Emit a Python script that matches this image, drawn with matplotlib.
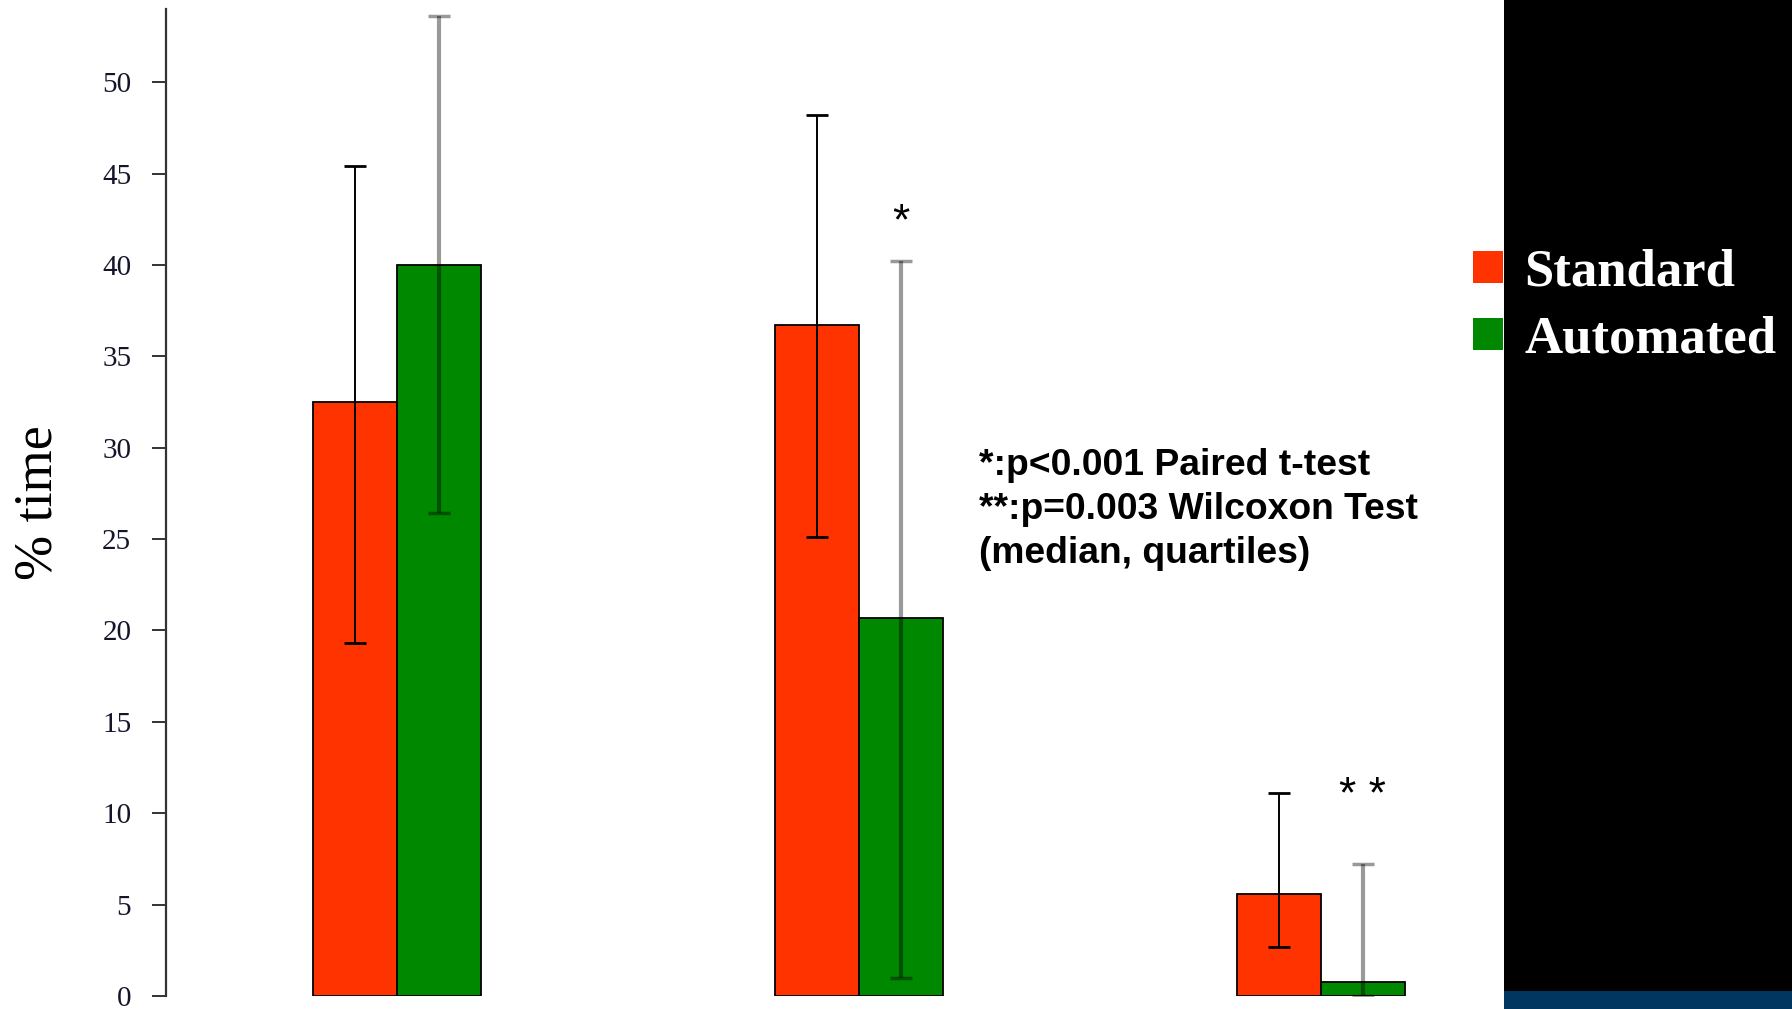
import matplotlib
matplotlib.use("Agg")
import matplotlib.pyplot as plt
from matplotlib.patches import Patch, Rectangle
import numpy as np

# Data
groups = [0, 1, 2]
series_names = ["Standard", "Automated"]
standard = [32.5, 36.7, 5.6]
standard_low = [19.3, 25.1, 2.7]
standard_high = [45.4, 48.2, 11.1]
automated = [40.0, 20.7, 0.75]
automated_low = [26.4, 1.0, 0.0]
automated_high = [53.6, 40.2, 7.2]
yticks = [0, 5, 10, 15, 20, 25, 30, 35, 40, 45, 50]

# significance marks (group index, text, y value)
star_groups = [1, 2]
star_labels = ["*", "* *"]
star_y = [42.3, 10.9]

note = "*:p<0.001 Paired t-test\n**:p=0.003 Wilcoxon Test\n(median, quartiles)"

red = "#FF3300"
green = "#008800"
width = 0.182

W, H = 1792, 1009
fig = plt.figure(figsize=(W / 100, H / 100), dpi=100)
fig.patch.set_facecolor("white")

# black side panel with the blue strip at the bottom
fig.patches.append(Rectangle((1504 / W, 18 / H), 1 - 1504 / W, 1 - 18 / H,
                             transform=fig.transFigure, facecolor="black", zorder=0))
fig.patches.append(Rectangle((1504 / W, 0), 1 - 1504 / W, 18 / H,
                             transform=fig.transFigure, facecolor="#003660", zorder=0))

ax = fig.add_axes([166 / W, 13 / H, (1504 - 166) / W, (996 - 9) / H])
ax.set_facecolor("none")

x = np.array(groups)
xs = x - width / 2
xa = x + width / 2
ax.bar(xs, standard, width, color=red, edgecolor="black", linewidth=1.3, zorder=2)
ax.bar(xa, automated, width, color=green, edgecolor="black", linewidth=1.3, zorder=2)

s_err = [np.array(standard) - np.array(standard_low), np.array(standard_high) - np.array(standard)]
a_err = [np.array(automated) - np.array(automated_low), np.array(automated_high) - np.array(automated)]

ax.errorbar(xs, standard, yerr=s_err, fmt="none", ecolor="black",
            elinewidth=1.4, capsize=8, capthick=2, zorder=3)
eb = ax.errorbar(xa, automated, yerr=a_err, fmt="none", ecolor=(0, 0, 0, 0.4),
                 elinewidth=3, capsize=8, capthick=2.5, zorder=3)
for cap in eb[1]:
    cap.set_color("#333333")

for g, lab, yv in zip(star_groups, star_labels, star_y):
    ax.text(g + width / 2, yv, lab, ha="center", va="center",
            fontsize=32, family="Liberation Sans", color="black")

ax.set_xlim(-0.501, 2.397)
ax.set_ylim(0, 54)
ax.set_yticks(yticks)
ax.set_xticks([])
for s in ["top", "right", "bottom"]:
    ax.spines[s].set_visible(False)
ax.spines["left"].set_color("#333333")
ax.spines["left"].set_linewidth(1.6)
ax.tick_params(axis="y", length=10, width=1.4, color="#333333", pad=15,
               labelsize=21, labelcolor="#15152a")
for t in ax.get_yticklabels():
    t.set_family("Liberation Serif")

ax.set_ylabel("% time", family="Liberation Serif", fontsize=39, labelpad=28)

fig.text(979 / W, 1 - 448 / H, note, ha="left", va="top", fontsize=26.8,
         fontweight="bold", family="Liberation Sans", linespacing=1.33)

handles = [Patch(facecolor=red, edgecolor="none"), Patch(facecolor=green, edgecolor="none")]
leg = fig.legend(handles, series_names, loc="center left",
                 bbox_to_anchor=(1473 / W, 1 - 306 / H), frameon=False,
                 borderpad=0, borderaxespad=0, handlelength=0.57, handleheight=0.57,
                 handletextpad=0.4, labelspacing=0.36,
                 prop={"family": "Liberation Serif", "weight": "bold", "size": 38})
for t in leg.get_texts():
    t.set_color("white")

fig.savefig("out.png", dpi=100)
